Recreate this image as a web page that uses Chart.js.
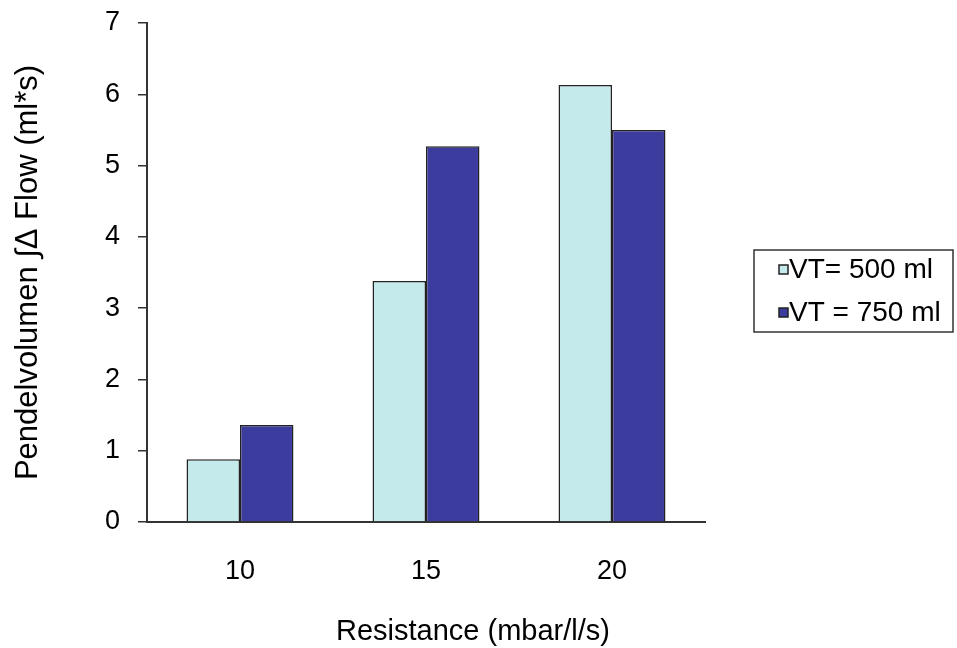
<!DOCTYPE html>
<html>
<head>
<meta charset="utf-8">
<script src="https://cdn.jsdelivr.net/npm/chart.js@4.4.1/dist/chart.umd.min.js"></script>
<style>
  html, body { margin: 0; padding: 0; background: #fff; }
  #wrap { width: 957px; height: 648px; position: relative; }
</style>
</head>
<body>
<div id="wrap"><canvas id="chart"></canvas></div>
<script>
  // values
  const resistances = ['10', '15', '20'];
  const vt500 = [0.88, 3.38, 6.13];
  const vt750 = [1.36, 5.27, 5.50];
  const seriesLabels = ['VT= 500 ml', 'VT = 750 ml'];
  const yTicks = [0, 1, 2, 3, 4, 5, 6, 7];
  const xTitle = 'Resistance (mbar/l/s)';

  const FONT = '"Liberation Sans", Arial, sans-serif';
  const LIGHT = '#c5eaec';
  const DARK = '#3c3c9f';
  const EDGE = '#222';

  // Excel-like boxed legend on the right, plus the x title (centred on the page, not the plot)
  const boxLegend = {
    id: 'boxLegend',
    afterDraw(chart) {
      const ctx = chart.ctx;
      const x = 754, y = 250, w = 199, h = 82;
      ctx.save();
      ctx.strokeStyle = '#333';
      ctx.lineWidth = 1.5;
      ctx.strokeRect(x, y, w, h);
      ctx.font = '28px ' + FONT;
      ctx.textBaseline = 'middle';
      chart.data.datasets.forEach((ds, i) => {
        const cy = y + 20 + i * 43;
        ctx.fillStyle = ds.backgroundColor;
        ctx.fillRect(779, cy - 5, 9, 9);
        ctx.strokeStyle = EDGE;
        ctx.lineWidth = 1.5;
        ctx.strokeRect(779, cy - 5, 9, 9);
        ctx.fillStyle = '#000';
        ctx.fillText(ds.label, 789, cy);
      });

      ctx.font = '29px ' + FONT;
      ctx.textAlign = 'center';
      ctx.fillStyle = '#000';
      ctx.fillText(xTitle, 473, 632);
      ctx.restore();
    }
  };

  new Chart(document.getElementById('chart'), {
    type: 'bar',
    data: {
      labels: resistances,
      datasets: [
        { label: seriesLabels[0], data: vt500, backgroundColor: LIGHT, borderColor: EDGE, borderWidth: 1.5 },
        { label: seriesLabels[1], data: vt750, backgroundColor: DARK, borderColor: EDGE, borderWidth: 1.5 }
      ]
    },
    options: {
      responsive: true,
      maintainAspectRatio: false,
      animation: false,
      categoryPercentage: 0.575,
      barPercentage: 1,
      layout: { padding: { top: 23, right: 252, bottom: 0, left: 0 } },
      scales: {
        x: {
          grid: { display: false },
          border: { color: '#333', width: 2 },
          ticks: { color: '#000', font: { family: FONT, size: 27 }, padding: 25 },
          afterFit: s => { s.height = 126; s.paddingLeft = 0; s.paddingRight = 0; }
        },
        y: {
          min: 0,
          max: 7,
          afterBuildTicks: s => { s.ticks = yTicks.map(v => ({ value: v })); },
          grid: { drawOnChartArea: false, drawTicks: true, tickLength: 9, color: '#333', lineWidth: 1.5 },
          border: { color: '#333', width: 2 },
          ticks: { color: '#000', font: { family: FONT, size: 27 }, padding: 18 },
          title: {
            display: true,
            text: 'Pendelvolumen ∫Δ Flow (ml*s)',
            color: '#000',
            font: { family: FONT, size: 31 },
            padding: { top: 10, bottom: 0 }
          },
          afterFit: s => { s.width = 147; s.paddingTop = 0; s.paddingBottom = 0; }
        }
      },
      plugins: {
        legend: { display: false },
        tooltip: { enabled: false }
      }
    },
    plugins: [boxLegend]
  });
</script>
</body>
</html>
